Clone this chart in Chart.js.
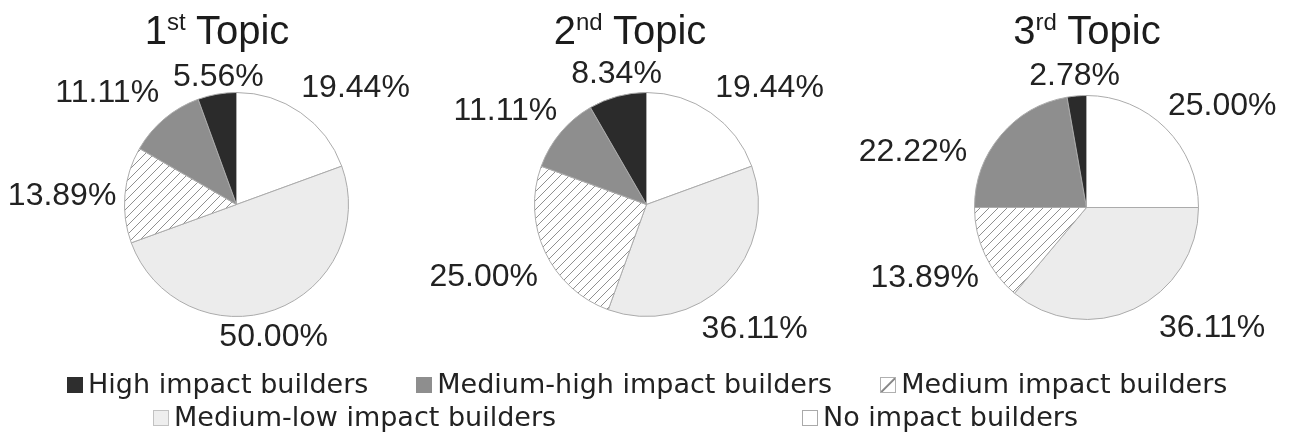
<!DOCTYPE html>
<html>
<head>
<meta charset="utf-8">
<script src="https://cdn.jsdelivr.net/npm/chart.js@4/dist/chart.umd.min.js"></script>
<style>
  html, body { margin: 0; padding: 0; background: #ffffff; }
  #wrap { position: relative; width: 1295px; height: 433px; overflow: hidden; background: #fff; }
  .pie { position: absolute; width: 480px; height: 360px; }
  .title { position: absolute; width: 400px; text-align: center; font-family: "Liberation Sans", Arial, sans-serif;
           font-size: 40px; line-height: 40px; color: #1c1c1c; white-space: nowrap; }
  .title .sup { font-size: 24px; line-height: 0; position: relative; top: -14px; }
  .legend-row { position: absolute; left: 0; display: flex; white-space: nowrap;
                font-family: "DejaVu Sans", sans-serif; font-size: 27px; line-height: 33px; color: #222; }
  .legend-item { display: inline-block; }
  .legend-box { display: inline-block; width: 16px; height: 16px; box-sizing: border-box; margin-right: 5px; vertical-align: baseline; }
</style>
</head>
<body>
<div id="wrap"></div>
<script>
// ---------- data ----------
const categories = ['High impact builders', 'Medium-high impact builders', 'Medium impact builders',
                    'Medium-low impact builders', 'No impact builders'];
const topicNumbers = ['1', '2', '3'];
const topicSuffixes = ['st', 'nd', 'rd'];
const topicWord = 'Topic';
const topic1Values = [5.56, 11.11, 13.89, 50.00, 19.44];
const topic2Values = [8.34, 11.11, 25.00, 36.11, 19.44];
const topic3Values = [2.78, 22.22, 13.89, 36.11, 25.00];
const topicValues = [topic1Values, topic2Values, topic3Values];

// ---------- layout / style ----------
const pieCenters = [[236, 204], [646, 204], [1086, 207]];
const titleCentersX = [217, 630, 1087];
const titleTop = 10;
// label nudges, in drawing order (clockwise from top: No, Medium-low, Medium, Medium-high, High)
const labelNudges = [
  [[27, 15], [-14, -8], [0, 7], [-25, 13], [6, 10]],
  [[31, 15], [-9, 8], [-5, -1], [-13, 14], [7, 8]],
  [[18, 16], [61, -18], [-4, -3], [-44, 53], [0, 4]]
];

function hatchPattern() {
  const c = document.createElement('canvas');
  const s = 9;
  c.width = s; c.height = s;
  const g = c.getContext('2d');
  g.fillStyle = '#ffffff';
  g.fillRect(0, 0, s, s);
  g.strokeStyle = '#909090';
  g.lineWidth = 1.0;
  g.beginPath();
  g.moveTo(0, s); g.lineTo(s, 0);
  g.moveTo(-2, 2); g.lineTo(2, -2);
  g.moveTo(s - 2, s + 2); g.lineTo(s + 2, s - 2);
  g.stroke();
  return g.createPattern(c, 'repeat');
}
const sliceColors = ['#2b2b2b', '#8e8e8e', hatchPattern(), '#ececec', '#ffffff'];
const legendBoxCss = [
  'background:#2e2e2e;border:1px solid #2e2e2e;',
  'background:#8e8e8e;border:1px solid #8e8e8e;',
  'background:linear-gradient(to bottom right, #fff 44%, #8a8a8a 48%, #8a8a8a 54%, #fff 58%);border:1px solid #b0b0b0;',
  'background:#eeeeee;border:1px solid #c2c2c2;',
  'background:#ffffff;border:1px solid #aaaaaa;'
];

const wrap = document.getElementById('wrap');

// ---------- label plugin ----------
const pctLabels = {
  id: 'pctLabels',
  afterDatasetsDraw(chart, args, opts) {
    const ctx = chart.ctx;
    const meta = chart.getDatasetMeta(0);
    const values = chart.data.datasets[0].data;
    ctx.save();
    ctx.font = opts.font;
    ctx.fillStyle = opts.color;
    ctx.textAlign = 'center';
    ctx.textBaseline = 'middle';
    meta.data.forEach((arc, i) => {
      const p = arc.getProps(['x', 'y', 'startAngle', 'endAngle', 'outerRadius'], true);
      const mid = (p.startAngle + p.endAngle) / 2;
      const text = values[i].toFixed(2) + '%';
      const w = ctx.measureText(text).width;
      const h = opts.textHeight;
      const ext = Math.abs(Math.cos(mid)) * w / 2 + Math.abs(Math.sin(mid)) * h / 2;
      const d = p.outerRadius + opts.gap + ext;
      const n = (opts.nudges && opts.nudges[i]) || [0, 0];
      ctx.fillText(text, p.x + Math.cos(mid) * d + n[0], p.y + Math.sin(mid) * d + n[1]);
    });
    ctx.restore();
  }
};

// ---------- pies ----------
topicValues.forEach((vals, t) => {
  const box = document.createElement('div');
  box.className = 'pie';
  box.style.left = (pieCenters[t][0] - 240) + 'px';
  box.style.top = (pieCenters[t][1] - 180) + 'px';
  const cv = document.createElement('canvas');
  box.appendChild(cv);
  wrap.appendChild(box);

  // drawn clockwise from 12 o'clock in reverse legend order
  const order = categories.map((_, i) => categories.length - 1 - i);
  new Chart(cv, {
    type: 'pie',
    data: {
      labels: order.map(i => categories[i]),
      datasets: [{
        data: order.map(i => vals[i]),
        backgroundColor: order.map(i => sliceColors[i]),
        borderColor: '#ababab',
        borderWidth: 1
      }]
    },
    options: {
      responsive: true,
      maintainAspectRatio: false,
      animation: false,
      events: [],
      layout: { padding: { left: 128, right: 127, top: 68, bottom: 67 } },
      plugins: {
        legend: { display: false },
        tooltip: { enabled: false },
        title: { display: false },
        pctLabels: {
          font: '32px "Liberation Sans", Arial, sans-serif',
          color: '#222222',
          textHeight: 23,
          gap: 8,
          nudges: labelNudges[t]
        }
      }
    },
    plugins: [pctLabels]
  });

  const title = document.createElement('div');
  title.className = 'title';
  title.style.left = (titleCentersX[t] - 200) + 'px';
  title.style.top = titleTop + 'px';
  title.innerHTML = topicNumbers[t] + '<span class="sup">' + topicSuffixes[t] + '</span> ' + topicWord;
  wrap.appendChild(title);
});

// ---------- legend ----------
const legendRows = [
  { items: [0, 1, 2], left: 67, top: 367, gap: 48 },
  { items: [3, 4], left: 153, top: 400, gap: 246 }
];
legendRows.forEach(row => {
  const r = document.createElement('div');
  r.className = 'legend-row';
  r.style.left = row.left + 'px';
  r.style.top = row.top + 'px';
  r.style.gap = row.gap + 'px';
  row.items.forEach(i => {
    const it = document.createElement('span');
    it.className = 'legend-item';
    const b = document.createElement('span');
    b.className = 'legend-box';
    b.style.cssText = legendBoxCss[i];
    it.appendChild(b);
    it.appendChild(document.createTextNode(categories[i]));
    r.appendChild(it);
  });
  wrap.appendChild(r);
});
</script>
</body>
</html>
